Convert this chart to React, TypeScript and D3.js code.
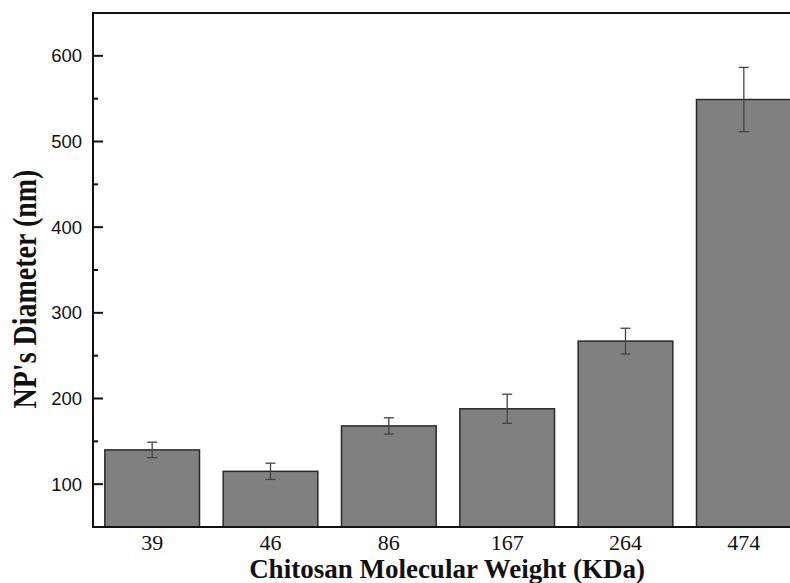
import React from "react";
import * as d3 from "d3";

// Chitosan molecular weight (KDa) vs. nanoparticle diameter (nm)
const categories = ["39", "46", "86", "167", "264", "474"];
const diameters = [140, 115, 168, 188, 267, 549];
const errors = [9, 9.5, 9.5, 17, 15, 37.5];
const majorTicks = [100, 200, 300, 400, 500, 600];
const minorTicks = [150, 250, 350, 450, 550];

const W = 790;
const H = 583;
const plot = { left: 93, top: 13, bottom: 527, right: 803 };

const serif = "'Liberation Serif', 'Times New Roman', serif";
const sans = "'Liberation Sans', Arial, sans-serif";

export default function App() {
  const x = d3
    .scaleBand<string>()
    .domain(categories)
    .range([plot.left, plot.right])
    .paddingInner(0.2)
    .paddingOuter(0.1);
  const y = d3.scaleLinear().domain([50, 650]).range([plot.bottom, plot.top]);
  const bw = x.bandwidth();

  return (
    <svg
      width={W}
      height={H}
      style={{ position: "absolute", left: 0, top: 0, background: "#fff" }}
    >
      {/* bars */}
      {categories.map((c, i) => (
        <rect
          key={c}
          x={x(c)}
          y={y(diameters[i])}
          width={bw}
          height={y(50) - y(diameters[i])}
          fill="#808080"
          stroke="#2a2a2a"
          strokeWidth={1.5}
        />
      ))}
      {/* error bars */}
      {categories.map((c, i) => {
        const cx = (x(c) as number) + bw / 2;
        const hi = y(diameters[i] + errors[i]);
        const lo = y(diameters[i] - errors[i]);
        return (
          <g key={"e" + c} stroke="#444" strokeWidth={1.3}>
            <line x1={cx} x2={cx} y1={hi} y2={lo} />
            <line x1={cx - 5} x2={cx + 5} y1={hi} y2={hi} />
            <line x1={cx - 5} x2={cx + 5} y1={lo} y2={lo} />
          </g>
        );
      })}
      {/* frame */}
      <g stroke="#111" strokeWidth={2} fill="none">
        <line x1={plot.left} x2={plot.right} y1={plot.top} y2={plot.top} />
        <line x1={plot.left} x2={plot.right} y1={plot.bottom} y2={plot.bottom} />
        <line x1={plot.left} x2={plot.left} y1={plot.top - 1} y2={plot.bottom + 1} />
        <line x1={plot.right} x2={plot.right} y1={plot.top} y2={plot.bottom} />
      </g>
      {/* y ticks, inward */}
      <g stroke="#111" strokeWidth={2}>
        {majorTicks.map((t) => (
          <line key={t} x1={plot.left} x2={plot.left + 10} y1={y(t)} y2={y(t)} />
        ))}
        {minorTicks.map((t) => (
          <line key={t} x1={plot.left} x2={plot.left + 5} y1={y(t)} y2={y(t)} />
        ))}
      </g>
      {majorTicks.map((t) => (
        <text
          key={"l" + t}
          x={82}
          y={y(t)}
          dy="0.36em"
          textAnchor="end"
          fontFamily={sans}
          fontSize={18.5}
          fill="#111"
        >
          {t}
        </text>
      ))}
      {/* category labels */}
      {categories.map((c) => (
        <text
          key={"c" + c}
          x={(x(c) as number) + bw / 2}
          y={550}
          textAnchor="middle"
          fontFamily={serif}
          fontSize={22}
          fill="#111"
        >
          {c}
        </text>
      ))}
      {/* axis titles */}
      <text
        x={447}
        y={578}
        textAnchor="middle"
        fontFamily={serif}
        fontWeight="bold"
        fontSize={27}
        fill="#111"
      >
        Chitosan Molecular Weight (KDa)
      </text>
      <text
        transform={`translate(36, 289) rotate(-90) scale(1, 1.18)`}
        textAnchor="middle"
        fontFamily={serif}
        fontWeight="bold"
        fontSize={28}
        fill="#111"
      >
        NP's Diameter (nm)
      </text>
    </svg>
  );
}
